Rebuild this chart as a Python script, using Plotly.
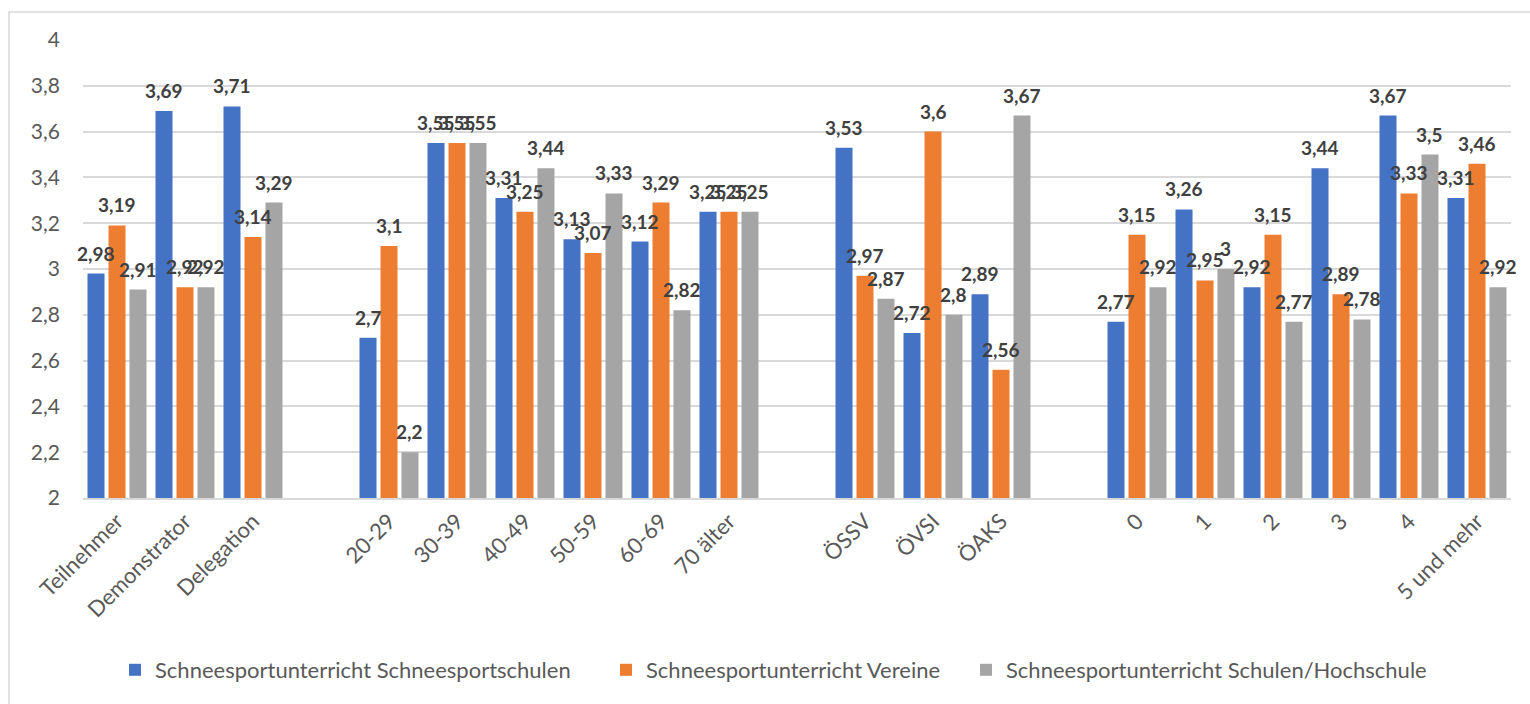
import plotly.graph_objects as go

# Category slots; the blank entries are spacer slots that separate the groups
categories = [
    "Teilnehmer", "Demonstrator", "Delegation", " ",
    "20-29", "30-39", "40-49", "50-59", "60-69", "70 älter", "  ",
    "ÖSSV", "ÖVSI", "ÖAKS", "   ",
    "0", "1", "2", "3", "4", "5 und mehr",
]

schneesportschulen = [2.98, 3.69, 3.71, None,
                      2.7, 3.55, 3.31, 3.13, 3.12, 3.25, None,
                      3.53, 2.72, 2.89, None,
                      2.77, 3.26, 2.92, 3.44, 3.67, 3.31]
vereine = [3.19, 2.92, 3.14, None,
           3.1, 3.55, 3.25, 3.07, 3.29, 3.25, None,
           2.97, 3.6, 2.56, None,
           3.15, 2.95, 3.15, 2.89, 3.33, 3.46]
schulen_hochschule = [2.91, 2.92, 3.29, None,
                      2.2, 3.55, 3.44, 3.33, 2.82, 3.25, None,
                      2.87, 2.8, 3.67, None,
                      2.92, 3, 2.77, 2.78, 3.5, 2.92]

series_names = [
    "Schneesportunterricht Schneesportschulen",
    "Schneesportunterricht Vereine",
    "Schneesportunterricht Schulen/Hochschule",
]
series_values = [schneesportschulen, vereine, schulen_hochschule]
series_colors = ["#4472C4", "#ED7D31", "#A5A5A5"]

y_ticks = [2, 2.2, 2.4, 2.6, 2.8, 3, 3.2, 3.4, 3.6, 3.8, 4]

FONT = "Lato"
W, H = 1530, 704
M_L, M_R, M_T, M_B = 83, 19, 40, 206
BARGAP = 0.074
LEGEND_KEYS = ["legend", "legend2", "legend3"]
LEGEND_LEFT_PX = [115, 606, 966]   # left edge of each legend entry


def de_num(v):
    s = f"{v:g}"
    return s.replace(".", ",")


fig = go.Figure()
for name, vals, col, lg in zip(series_names, series_values, series_colors, LEGEND_KEYS):
    fig.add_trace(go.Bar(
        x=categories, y=vals, name=name, legend=lg,
        marker=dict(color=col, line=dict(width=0)),
        hoverinfo="x+y",
    ))

# value labels centred above each bar
slot = (1 - BARGAP) / 3
annotations = []
for k, vals in enumerate(series_values):
    for i, v in enumerate(vals):
        if v is None:
            continue
        annotations.append(dict(
            x=i + (k - 1) * slot, y=v, xref="x", yref="y",
            text=de_num(v), showarrow=False,
            yanchor="bottom", xanchor="center", yshift=7,
            font=dict(family=FONT, size=19, color="#404040", weight="bold"),
        ))

pw = W - M_L - M_R
ph = H - M_T - M_B

legend_style = dict(
    orientation="h", xanchor="left",
    y=-(670 - (H - M_B)) / ph, yanchor="middle",
    font=dict(family=FONT, size=22, color="#595959"),
    itemsizing="constant", itemwidth=30, bgcolor="rgba(0,0,0,0)",
)
legends = {key: dict(legend_style, x=(px - M_L) / pw)
           for key, px in zip(LEGEND_KEYS, LEGEND_LEFT_PX)}

fig.update_layout(
    width=W, height=H,
    margin=dict(l=M_L, r=M_R, t=M_T, b=M_B, autoexpand=False),
    paper_bgcolor="white", plot_bgcolor="white",
    separators=",.",
    barmode="group", bargap=BARGAP, bargroupgap=0.19,
    font=dict(family=FONT, color="#595959"),
    annotations=annotations,
    showlegend=True,
    **legends,
    shapes=[dict(
        type="rect", xref="paper", yref="paper",
        x0=(9 - M_L) / pw, x1=(W + 20 - M_L) / pw,
        y0=-(H + 20 - (H - M_B)) / ph, y1=((H - M_B) - 12) / ph,
        line=dict(color="#D9D9D9", width=1.5), fillcolor="rgba(0,0,0,0)",
        layer="below",
    )],
)

fig.update_xaxes(
    type="category", categoryorder="array", categoryarray=categories,
    range=[-0.5, len(categories) - 0.5], automargin=False,
    tickangle=-45, tickfont=dict(family=FONT, size=22, color="#595959"),
    showgrid=False, showline=True, linecolor="#D9D9D9", linewidth=1.5,
    ticks="", zeroline=False,
)
fig.update_yaxes(
    range=[2, 4], tickvals=y_ticks, automargin=False,
    tickfont=dict(family=FONT, size=21, color="#595959"),
    showgrid=True, gridcolor="#D9D9D9", gridwidth=1.5,
    showline=False, zeroline=False, ticks="", ticklabelstandoff=22,
)

fig.write_html("out.html")
